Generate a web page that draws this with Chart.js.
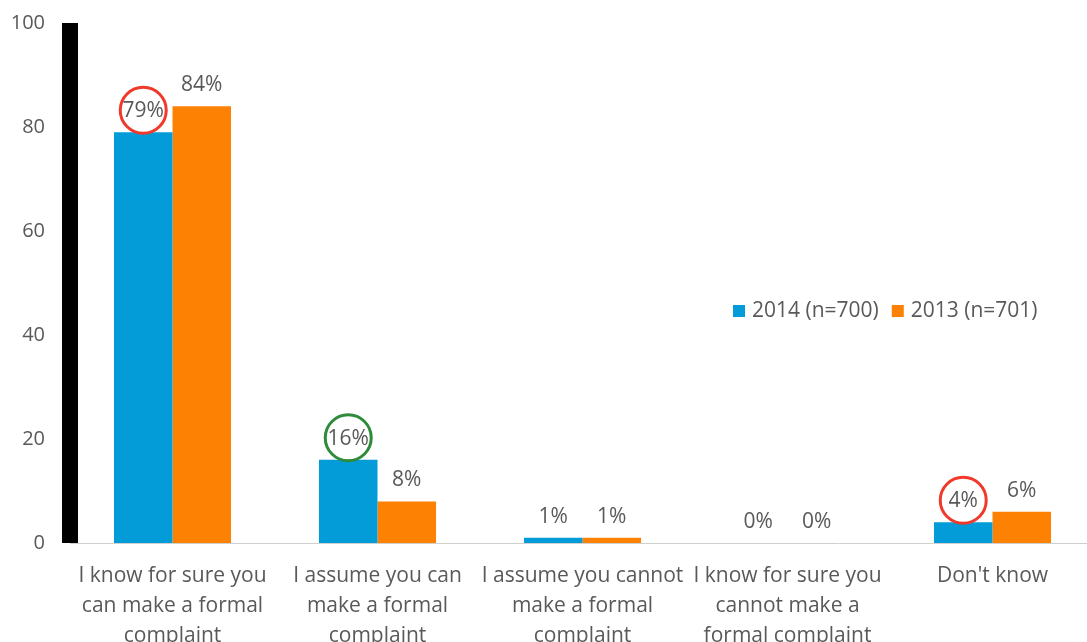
<!DOCTYPE html>
<html>
<head>
<meta charset="utf-8">
<script src="https://cdn.jsdelivr.net/npm/chart.js@4.4.1/dist/chart.umd.min.js"></script>
<style>
  html, body { margin: 0; padding: 0; background: #fff; overflow: hidden; }
  #wrap { width: 1100px; height: 642px; position: relative; }
</style>
</head>
<body>
<div id="wrap"><canvas id="c"></canvas></div>
<script>
const categories = [
  ["I know for sure you", "can make a formal", "complaint"],
  ["I assume you can", "make a formal", "complaint"],
  ["I assume you cannot", "make a formal", "complaint"],
  ["I know for sure you", "cannot make a", "formal complaint"],
  ["Don't know"]
];
const seriesNames = ["2014 (n=700)", "2013 (n=701)"];
const values2014 = [79, 16, 1, 0, 4];
const values2013 = [84, 8, 1, 0, 6];
const yTicks = [0, 20, 40, 60, 80, 100];
// highlighted labels: [datasetIndex, categoryIndex]
const circled = [[0, 0], [0, 1], [0, 4]];

const FONT = "'Open Sans', 'Liberation Sans', sans-serif";
const TEXT = '#595959';
const circleColors = ['#f0392b', '#2e8b3a', '#f0392b'];

const dataLabels = {
  id: 'dataLabels',
  afterDatasetsDraw(chart) {
    const ctx = chart.ctx;
    ctx.save();
    ctx.font = '21px ' + FONT;
    ctx.fillStyle = TEXT;
    ctx.textAlign = 'center';
    ctx.textBaseline = 'middle';
    chart.data.datasets.forEach((ds, di) => {
      chart.getDatasetMeta(di).data.forEach((bar, i) => {
        ctx.fillText(ds.data[i] + '%', bar.x, bar.y - 21);
      });
    });
    ctx.lineWidth = 3;
    circled.forEach(([di, i], k) => {
      const bar = chart.getDatasetMeta(di).data[i];
      ctx.strokeStyle = circleColors[k];
      ctx.beginPath();
      ctx.arc(bar.x, bar.y - 22, 23, 0, Math.PI * 2);
      ctx.stroke();
    });
    ctx.restore();
  }
};

const axisBar = {
  id: 'axisBar',
  afterDraw(chart) {
    const y = chart.scales.y, ctx = chart.ctx;
    const x = chart.chartArea.left;
    ctx.save();
    ctx.fillStyle = '#000';
    const top = y.getPixelForValue(100), bot = y.getPixelForValue(0);
    ctx.fillRect(x - 8, top, 16, bot - top);
    ctx.restore();
  }
};

const legendBox = {
  id: 'legendBox',
  afterDraw(chart) {
    const ctx = chart.ctx;
    ctx.save();
    ctx.font = '21px ' + FONT;
    ctx.textBaseline = 'middle';
    let x = 733;
    const yc = 311;
    chart.data.datasets.forEach(ds => {
      ctx.fillStyle = ds.backgroundColor;
      ctx.fillRect(x, yc - 6, 12, 12);
      ctx.fillStyle = TEXT;
      ctx.textAlign = 'left';
      ctx.fillText(ds.label, x + 19, yc);
      x += 19 + ctx.measureText(ds.label).width + 13;
    });
    ctx.restore();
  }
};

new Chart(document.getElementById('c'), {
  type: 'bar',
  data: {
    labels: categories,
    datasets: [
      { label: seriesNames[0], data: values2014, backgroundColor: '#049cd8', barPercentage: 1, categoryPercentage: 0.571 },
      { label: seriesNames[1], data: values2013, backgroundColor: '#fd8204', barPercentage: 1, categoryPercentage: 0.571 }
    ]
  },
  options: {
    responsive: true,
    maintainAspectRatio: false,
    animation: false,
    layout: { padding: { top: 23, right: 5, left: 0, bottom: 0 } },
    plugins: { legend: { display: false }, tooltip: { enabled: false } },
    scales: {
      x: {
        grid: { display: false },
        border: { display: true, color: '#d0d0d0', width: 1 },
        ticks: { color: TEXT, font: { family: FONT, size: 21, lineHeight: 1.43 }, padding: 10, maxRotation: 0, autoSkip: false },
        afterFit(s) { s.height = 99; s.paddingLeft = 0; s.paddingRight = 0; }
      },
      y: {
        min: 0, max: 100,
        grid: { display: false, drawTicks: false },
        border: { display: false },
        afterBuildTicks(s) { s.ticks = yTicks.map(v => ({ value: v })); },
        ticks: { color: TEXT, font: { family: FONT, size: 20 }, padding: 25 },
        afterFit(s) { s.width = 70; s.paddingTop = 0; s.paddingBottom = 0; }
      }
    }
  },
  plugins: [dataLabels, axisBar, legendBox]
});
</script>
</body>
</html>
